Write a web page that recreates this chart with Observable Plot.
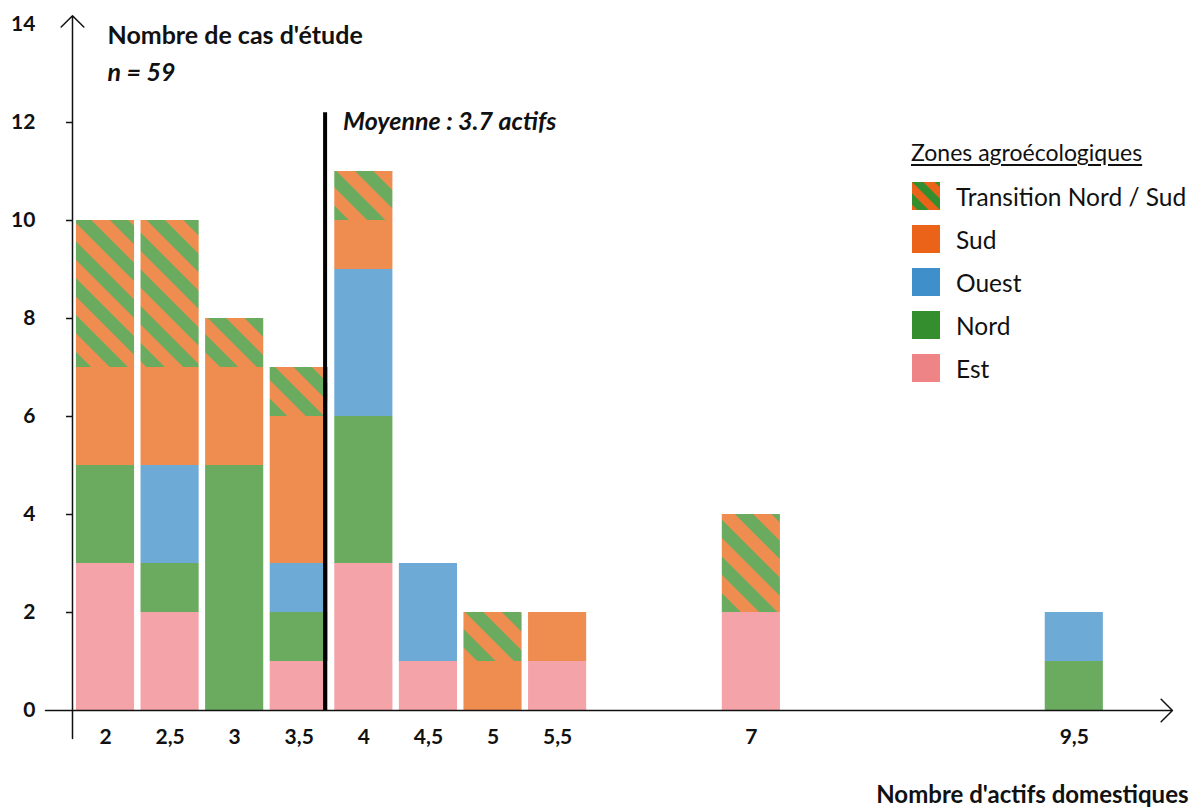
<!DOCTYPE html>
<html>
<head>
<meta charset="utf-8">
<script src="https://cdn.jsdelivr.net/npm/d3@7"></script>
<script src="https://cdn.jsdelivr.net/npm/@observablehq/plot@0.6"></script>
<style>
  html, body { margin: 0; padding: 0; background: #fff; }
  #wrap { position: relative; width: 1193px; height: 809px; overflow: hidden; font-family: Lato, "Open Sans", sans-serif; color: #111; }
  #wrap svg.plot { position: absolute; left: 0; top: 0; }
  #legend { position: absolute; left: 911px; top: 138px; font-size: 24.5px; }
  #legend .ttl { font-size: 23px; text-decoration: underline; text-underline-offset: 3px; line-height: 28px; margin-bottom: 16px; }
  #legend .row { display: flex; align-items: center; height: 28px; margin-bottom: 15px; }
  #legend .sw { width: 28px; height: 28px; margin-left: 1px; margin-right: 16px; flex: none; }
</style>
</head>
<body>
<div id="wrap">
  <div id="legend"></div>
</div>
<script>
// ---- data ----
const xValues    = [2, 2.5, 3, 3.5, 4, 4.5, 5, 5.5, 7, 9.5];
const est        = [3, 2, 0, 1, 3, 1, 0, 1, 2, 0];
const nord       = [2, 1, 5, 1, 3, 0, 0, 0, 0, 1];
const ouest      = [0, 2, 0, 1, 3, 2, 0, 0, 0, 1];
const sud        = [2, 2, 2, 3, 1, 0, 1, 1, 0, 0];
const transition = [3, 3, 1, 1, 1, 0, 1, 0, 2, 0];
const zones = ["Est", "Nord", "Ouest", "Sud", "Transition Nord / Sud"];
const legendOrder = ["Transition Nord / Sud", "Sud", "Ouest", "Nord", "Est"];
const yTicks = [0, 2, 4, 6, 8, 10, 12, 14];
const xTickLabels = ["2", "2,5", "3", "3,5", "4", "4,5", "5", "5,5", "7", "9,5"];
const meanValue = 3.7;
const total = 59;

// ---- colours ----
const barColors = {"Est": "#f4a3a8", "Nord": "#6aab5f", "Ouest": "#6eaad6", "Sud": "#ef8c50", "Transition Nord / Sud": "url(#hatchBar)"};
const legendColors = {"Est": "#ee8486", "Nord": "#358e2e", "Ouest": "#3f8fca", "Sud": "#ea6319"};

// ---- table ----
const series = [est, nord, ouest, sud, transition];
const rows = [];
xValues.forEach((x, i) => {
  zones.forEach((z, j) => {
    if (series[j][i] > 0) rows.push({x, zone: z, n: series[j][i]});
  });
});

const halfBar = 0.225;
const xAxisPos = 1.7445;   // position of the vertical axis line (in x units)
const xMin = 1.5355, xMax = 10.268;

const plot = Plot.plot({
  width: 1193,
  height: 809,
  marginLeft: 45,
  marginRight: 20,
  marginTop: 24,
  marginBottom: 99,
  x: {type: "linear", domain: [xMin, xMax], axis: null},
  y: {domain: [0, 14], axis: null},
  color: {type: "ordinal", domain: zones, range: zones.map(z => barColors[z])},
  style: {fontFamily: "Lato, 'Open Sans', sans-serif", color: "#111", background: "transparent"},
  marks: [
    Plot.rect(rows, Plot.stackY({
      x1: d => d.x - halfBar,
      x2: d => d.x + halfBar,
      y: "n",
      fill: "zone",
      order: zones
    })),
    // y tick marks
    Plot.ruleY(yTicks.filter(t => t > 0 && t < 14), {x1: 1.698, x2: xAxisPos, stroke: "#111", strokeWidth: 1.5}),
    // y tick labels
    Plot.text(yTicks, {x: xAxisPos, y: d => d, text: d => String(d), textAnchor: "end", dx: -37, fontSize: 21, fontWeight: 700, fill: "#111"}),
    // x tick labels
    Plot.text(xValues, {x: d => d, y: 0, text: (d, i) => xTickLabels[i], dy: 27, fontSize: 21, fontWeight: 700, fill: "#111"}),
    // axes with arrow heads
    Plot.arrow([0], {x1: xMin, x2: 10.26, y1: 0, y2: 0, stroke: "#111", strokeWidth: 1.5, headLength: 16, headAngle: 90}),
    Plot.arrow([0], {x1: xAxisPos, x2: xAxisPos, y1: -0.571, y2: 14.18, stroke: "#111", strokeWidth: 1.5, headLength: 16, headAngle: 90}),
    // mean line
    Plot.ruleX([meanValue], {y1: 0, y2: 12.2, stroke: "#000", strokeWidth: 4}),
    Plot.text([meanValue], {x: d => d, y: 12, text: d => `Moyenne : ${d} actifs`, textAnchor: "start", lineAnchor: "bottom", dx: 18, dy: 7, fontSize: 25, fontWeight: 700, fontStyle: "italic", fill: "#111"}),
    // axis titles
    Plot.text(["Nombre de cas d'étude"], {frameAnchor: "top-left", text: d => d, textAnchor: "start", lineAnchor: "bottom", dx: 62, dy: 19, fontSize: 25, fontWeight: 700, fill: "#111"}),
    Plot.text([total], {frameAnchor: "top-left", text: d => `n = ${d}`, textAnchor: "start", lineAnchor: "bottom", dx: 62, dy: 56, fontSize: 25, fontWeight: 700, fontStyle: "italic", fill: "#111"}),
    Plot.text(["Nombre d'actifs domestiques"], {frameAnchor: "bottom-right", text: d => d, textAnchor: "end", lineAnchor: "bottom", dx: 15, dy: 92, fontSize: 24, fontWeight: 700, fill: "#111"})
  ]
});
plot.classList.add("plot");

// hatch pattern for the transition zone
const ns = "http://www.w3.org/2000/svg";
function addPattern(svg, id, size, c1, c2) {
  let defs = svg.querySelector("defs");
  if (!defs) { defs = document.createElementNS(ns, "defs"); svg.insertBefore(defs, svg.firstChild); }
  const p = document.createElementNS(ns, "pattern");
  p.setAttribute("id", id);
  p.setAttribute("patternUnits", "userSpaceOnUse");
  p.setAttribute("width", size);
  p.setAttribute("height", size);
  p.setAttribute("patternTransform", "rotate(-45)");
  const r1 = document.createElementNS(ns, "rect");
  r1.setAttribute("width", size); r1.setAttribute("height", size); r1.setAttribute("fill", c1);
  const r2 = document.createElementNS(ns, "rect");
  r2.setAttribute("width", size / 2); r2.setAttribute("height", size); r2.setAttribute("fill", c2);
  p.appendChild(r1); p.appendChild(r2);
  defs.appendChild(p);
}
addPattern(plot, "hatchBar", 26, "#ef8c50", "#6aab5f");
document.getElementById("wrap").appendChild(plot);

// ---- legend ----
const legend = document.getElementById("legend");
const ttl = document.createElement("div");
ttl.className = "ttl";
ttl.textContent = "Zones agroécologiques";
legend.appendChild(ttl);
legendOrder.forEach(z => {
  const row = document.createElement("div");
  row.className = "row";
  const sw = document.createElementNS(ns, "svg");
  sw.setAttribute("class", "sw");
  sw.setAttribute("width", 28); sw.setAttribute("height", 28);
  const r = document.createElementNS(ns, "rect");
  r.setAttribute("width", 28); r.setAttribute("height", 28);
  if (z === "Transition Nord / Sud") {
    addPattern(sw, "hatchLegend", 16, "#ea6319", "#358e2e");
    r.setAttribute("fill", "url(#hatchLegend)");
  } else {
    r.setAttribute("fill", legendColors[z]);
  }
  sw.appendChild(r);
  const t = document.createElement("span");
  t.textContent = z;
  row.appendChild(sw);
  row.appendChild(t);
  legend.appendChild(row);
});
</script>
</body>
</html>
